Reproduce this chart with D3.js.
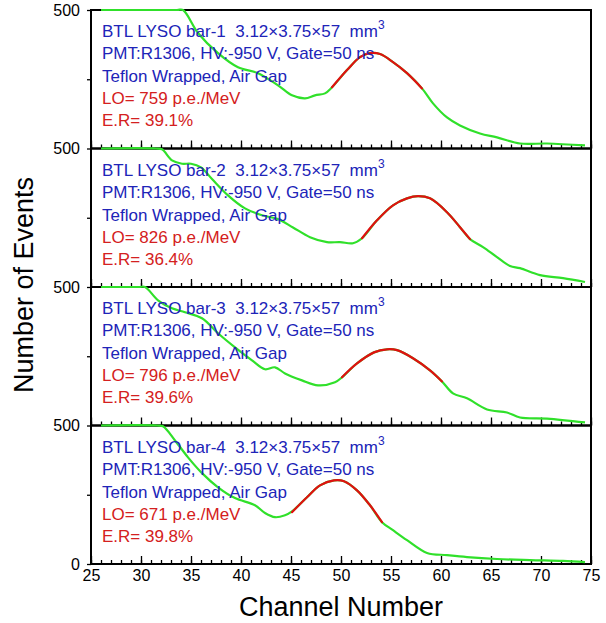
<!DOCTYPE html>
<html><head><meta charset="utf-8">
<script src="https://cdn.jsdelivr.net/npm/d3@7"></script>
<style>
body{margin:0;background:#fff;}
text{font-family:"Liberation Sans",Arial,sans-serif;}
</style></head>
<body><svg id="c" width="606" height="623"></svg>
<script>
// ---- data ----
const bars = ["bar-1","bar-2","bar-3","bar-4"];
const lightOutput = ["759","826","796","671"];
const energyRes = ["39.1%","36.4%","39.6%","39.8%"];
const xTicks = [25,30,35,40,45,50,55,60,65,70,75];

const spec1 = [[26,600],[33.6,540],[34.2,500],[35.7,417],[37.7,344],[39.7,293],[41.7,272],[43.7,228],[45.1,192],[46.4,181],[47.4,192],[48.4,199],[49.1,221],[50.6,283],[51.9,330],[52.9,344],[53.9,341],[55.2,312],[56.6,272],[58.1,217],[59.2,163],[60.6,112],[61.9,83],[63.9,54],[65.6,40],[67.9,18],[70.6,18],[74.4,11]];
const spec2 = [[26,600],[31.5,540],[32.1,497],[33.1,457],[34.1,445],[35.0,445],[36.0,432],[37.1,390],[38.7,331],[40.4,284],[42.1,259],[43.7,245],[45.2,215],[46.9,180],[48.6,162],[49.9,162],[51.2,158],[52.1,176],[53.6,241],[55.2,295],[56.6,320],[57.7,328],[58.9,320],[60.6,270],[61.9,216],[62.9,173],[64.2,144],[65.6,108],[66.9,76],[67.9,68],[69.9,43],[72.2,32],[74.4,18]];
const spec3 = [[26,600],[29.8,540],[30.4,500],[31.7,452],[33.1,423],[34.4,409],[36.1,387],[37.7,333],[39.4,282],[41.1,235],[42.4,203],[43.4,210],[44.4,188],[46.1,163],[47.7,145],[49.4,156],[50.1,174],[51.6,224],[53.3,264],[54.6,275],[55.6,272],[57.2,243],[58.9,199],[60.1,159],[61.2,116],[62.6,98],[64.6,58],[66.6,47],[67.9,29],[70.6,25],[74.4,11]];
const spec4 = [[26,600],[31.6,540],[32.2,497],[33.4,446],[34.7,385],[36.1,328],[37.7,277],[39.4,238],[41.4,212],[42.4,184],[43.4,169],[44.4,176],[45.1,190],[46.6,241],[47.9,284],[49.3,302],[50.3,299],[51.6,266],[52.9,212],[54.1,151],[55.2,122],[56.6,86],[58.6,40],[60.6,32],[62.6,25],[65.6,18],[68.9,14],[72.2,11],[74.4,7]];

const fit1 = [[49.1,221],[50.6,283],[51.9,330],[52.9,344],[53.9,341],[55.2,312],[56.6,272],[58.1,217]];
const fit2 = [[52.1,176],[53.6,241],[55.2,295],[56.6,320],[57.7,328],[58.9,320],[60.6,270],[61.9,216],[62.9,173]];
const fit3 = [[50.1,174],[51.6,224],[53.3,264],[54.6,275],[55.6,272],[57.2,243],[58.9,199],[60.1,159]];
const fit4 = [[45.1,187],[46.6,241],[47.9,284],[49.3,302],[50.3,299],[51.6,266],[52.9,212],[54.1,151]];

const spectra = [spec1,spec2,spec3,spec4];
const fits = [fit1,fit2,fit3,fit4];

// ---- layout ----
const svg = d3.select("#c");
const left = 91, right = 591, top0 = 10, bottom = 564;
const ph = (bottom - top0) / 4;
const x = d3.scaleLinear().domain([25,75]).range([left,right]);
const blue = "#2024b8", red = "#d42020", green = "#30e02a", fitRed = "#e01010";

svg.append("rect").attr("width",606).attr("height",623).attr("fill","#fff");

bars.forEach((b,i)=>{
  const pt = top0 + i*ph, pb = pt + ph;
  const y = d3.scaleLinear().domain([0,500]).range([pb,pt]).clamp(true);
  const g = svg.append("g");

  // frame
  g.append("rect").attr("x",left).attr("y",pt).attr("width",right-left).attr("height",ph)
    .attr("fill","none").attr("stroke","#000").attr("stroke-width",2);

  // x axis minor / major ticks (inward)
  g.append("g").attr("transform",`translate(0,${pb})`)
    .call(d3.axisBottom(x).tickValues(d3.range(25,76,1)).tickSize(-4).tickFormat(""))
    .call(a=>a.select(".domain").remove());
  g.append("g").attr("transform",`translate(0,${pb})`)
    .call(d3.axisBottom(x).tickValues(xTicks).tickSize(-8).tickFormat(i===3? d3.format("d") : ""))
    .call(a=>a.select(".domain").remove())
    .call(a=>a.selectAll("text").attr("font-size",16).attr("dy","0.9em").attr("fill","#000")
      .style("font-family","'Liberation Sans',Arial,sans-serif"));
  // y axis
  g.append("g").attr("transform",`translate(${left},0)`)
    .call(d3.axisLeft(y).tickValues(i===3?[0,250,500]:[250,500]).tickSize(4).tickPadding(7)
      .tickFormat(d=> d===250 ? "" : d3.format("d")(d)))
    .call(a=>a.select(".domain").remove())
    .call(a=>a.selectAll("text").attr("font-size",16).attr("fill","#000")
      .style("font-family","'Liberation Sans',Arial,sans-serif"));
  g.selectAll(".tick line").attr("stroke","#000").attr("stroke-width",1.3);

  // curves
  const line = d3.line().x(d=>x(d[0])).y(d=>y(d[1])).curve(d3.curveCatmullRom.alpha(0.5));
  g.append("path").datum(spectra[i]).attr("d",line).attr("fill","none")
    .attr("stroke",green).attr("stroke-width",2.2).attr("stroke-linejoin","round");
  g.append("path").datum(fits[i]).attr("d",line).attr("fill","none")
    .attr("stroke",fitRed).attr("stroke-width",2.2).attr("stroke-linecap","round");

  // annotations
  const tx = left + 11;
  const t1 = g.append("text").attr("x",tx).attr("y",pt+27).attr("font-size",17).attr("fill",blue)
    .style("white-space","pre");
  t1.append("tspan").text(`BTL LYSO ${b}  3.12×3.75×57  mm`);
  t1.append("tspan").attr("dy",-8).attr("font-size",12).text("3");
  g.append("text").attr("x",tx).attr("y",pt+49).attr("font-size",17).attr("fill",blue)
    .text("PMT:R1306, HV:-950 V, Gate=50 ns");
  g.append("text").attr("x",tx).attr("y",pt+72).attr("font-size",17).attr("fill",blue)
    .text("Teflon Wrapped, Air Gap");
  g.append("text").attr("x",tx).attr("y",pt+94).attr("font-size",17).attr("fill",red)
    .text(`LO= ${lightOutput[i]} p.e./MeV`);
  g.append("text").attr("x",tx).attr("y",pt+116).attr("font-size",17).attr("fill",red)
    .text(`E.R= ${energyRes[i]}`);
});

svg.append("text").attr("x",(left+right)/2).attr("y",616).attr("text-anchor","middle")
  .attr("font-size",27).attr("fill","#000").text("Channel Number");
svg.append("text").attr("transform",`translate(33,${285}) rotate(-90)`).attr("text-anchor","middle")
  .attr("font-size",27).attr("fill","#000").text("Number of Events");
</script></body></html>
